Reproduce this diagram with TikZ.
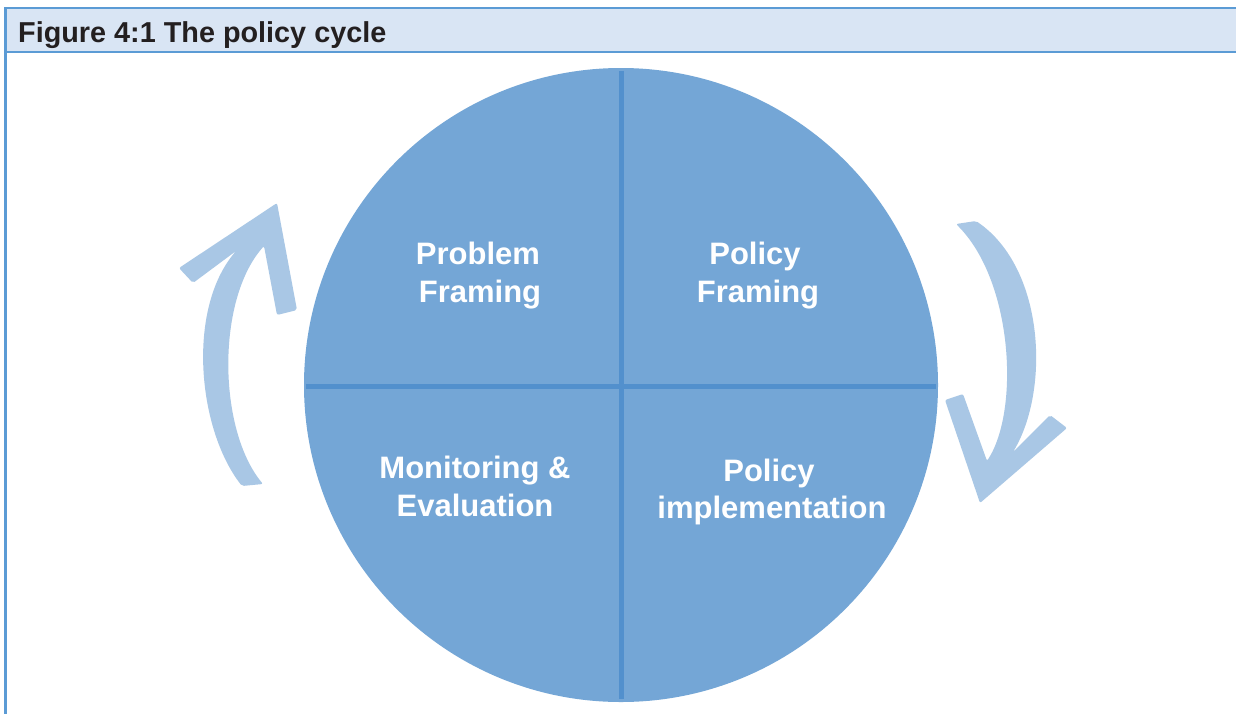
\documentclass[tikz,border=0pt]{standalone}
\usepackage{fontspec}
\setmainfont{Liberation Sans}
\usetikzlibrary{calc}
\definecolor{framec}{HTML}{5B9BD5}
\definecolor{headc}{HTML}{D9E5F4}
\definecolor{circc}{HTML}{74A6D6}
\definecolor{divc}{HTML}{5290CD}
\definecolor{arrc}{HTML}{A9C7E5}
\definecolor{titlec}{HTML}{231F20}
\tikzset{
  frameline/.style={draw=framec, line width=2.6pt},
  divline/.style={draw=divc, line width=5pt},
  arrowshape/.style={fill=arrc, draw=none, rounded corners=2pt},
  lbl/.style={text=white, font=\bfseries\fontsize{31}{36}\selectfont, inner sep=0pt, anchor=base},
  ttl/.style={text=titlec, font=\bfseries\fontsize{28.8}{34}\selectfont, inner sep=0pt, anchor=base west}
}
\begin{document}
\begin{tikzpicture}[x=1pt,y=-1pt]
\useasboundingbox (0,0) rectangle (1236,713);
\clip (0,0) rectangle (1236,713);
\fill[white] (0,0) rectangle (1236,713);
% header
\fill[headc] (5.5,8) rectangle (1240,52);
\draw[frameline] (1240,8) -- (5.5,8) -- (5.5,720);
\draw[frameline] (5.5,52) -- (1240,52);
\node[ttl] (title) at (18,42) {Figure 4:1 The policy cycle};
% circle
\node[circle, fill=circc, draw=none, minimum size=634pt, inner sep=0pt] (cyc) at (621,385) {};
\draw[divline] ($(cyc.north)+(0,3)$) -- ($(cyc.south)+(0,-3)$);
\draw[divline] ($(cyc.west)+(2,1)$) -- ($(cyc.east)+(-2,1)$);
% labels
\node[lbl] (pf1) at (478,264) {Problem};
\node[lbl] (pf2) at (480,302) {Framing};
\node[lbl] (po1) at (755,264) {Policy};
\node[lbl] (po2) at (758,302) {Framing};
\node[lbl] (me1) at (475,478) {Monitoring \&};
\node[lbl] (me2) at (475,516) {Evaluation};
\node[lbl] (pi1) at (769,481) {Policy};
\node[lbl] (pi2) at (772,518) {implementation};
% left arrow (upward)
\path[arrowshape] (242,486) .. controls (198,430) and (186,310) .. (236,251)
  -- (193,283) -- (179,268) -- (277,203) -- (297,310) -- (277,315) -- (264,246)
  .. controls (216,300) and (218,430) .. (263,484) -- cycle;
% right arrow (downward)
\path[arrowshape] (956,224) .. controls (1013,280) and (1020,410) .. (987,461)
  -- (963,394) -- (945,400) -- (980,503) -- (1067,428) -- (1050,415) -- (1013,452)
  .. controls (1050,390) and (1045,268) .. (976,221) -- cycle;
\end{tikzpicture}
\end{document}
